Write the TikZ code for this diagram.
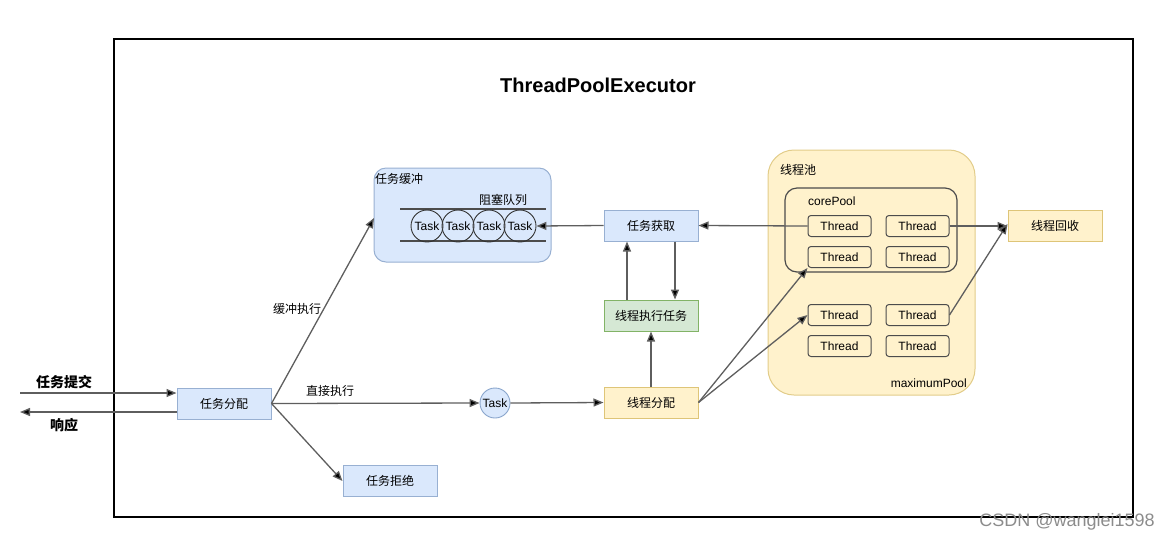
\documentclass[tikz,border=0pt]{standalone}
\usepackage{fontspec}
\setmainfont{Liberation Sans}
\newfontfamily\cjk{Noto Sans CJK SC}
\usetikzlibrary{arrows.meta}
\definecolor{bfill}{HTML}{DAE8FC}
\definecolor{bline}{HTML}{6C8EBF}
\definecolor{gfill}{HTML}{D5E8D4}
\definecolor{gline}{HTML}{82B366}
\definecolor{yfill}{HTML}{FFF2CC}
\definecolor{yline}{HTML}{D6B656}
\definecolor{arr}{HTML}{5E5E5E}
\tikzset{
  box/.style={draw, line width=1pt, minimum width=94pt, minimum height=31pt, inner sep=0pt, font=\cjk\fontsize{12}{14}\selectfont},
  bbox/.style={box, fill=bfill, draw=bline!70},
  gbox/.style={box, fill=gfill, draw=gline},
  ybox/.style={box, fill=yfill, draw=yline!80},
  thr/.style={draw=black!70, line width=1pt, rounded corners=3pt, minimum width=63pt, minimum height=21pt, inner sep=0pt, font=\fontsize{12}{14}\selectfont},
  taskc/.style={circle, draw=black!80, line width=0.9pt, minimum size=32pt, inner sep=0pt, font=\fontsize{12}{14}\selectfont},
  arrow/.style={draw=arr, line width=1.3pt, -{Triangle[length=10pt,width=8pt,fill=black]}},
  lbl/.style={font=\cjk\fontsize{12}{14}\selectfont, inner sep=0pt},
}
\begin{document}
\begin{tikzpicture}[x=1pt,y=-1pt]
\useasboundingbox (0,0) rectangle (1170,542);
% outer frame
\draw[line width=2.6pt] (114,39) rectangle (1133,517);
\node[font=\bfseries\fontsize{20}{24}\selectfont] (title) at (598,85) {ThreadPoolExecutor};

% buffer
\draw[fill=bfill, draw=bline!70, line width=1pt, rounded corners=12pt] (374,168) rectangle (551,262);
\node[lbl, anchor=west] (buflbl) at (375,179) {任务缓冲};
\node[lbl] (bq) at (503,200) {阻塞队列};
\draw[black!70, line width=1.2pt] (400,209) -- (546,209);
\draw[black!70, line width=1.2pt] (400,241) -- (546,241);
\foreach \i/\x in {1/427,2/458,3/489,4/520} {
  \node[taskc] (q\i) at (\x,226) {Task};
}
\coordinate (buf) at (374,218);

% pool
\draw[fill=yfill, draw=yline!70, line width=1pt, rounded corners=26pt] (768,150) rectangle (975,395);
\node[lbl, anchor=west] (poollbl) at (780,170) {线程池};
\draw[black!70, line width=1.2pt, rounded corners=12pt] (785,188) rectangle (957,272);
\node[font=\fontsize{12}{14}\selectfont, anchor=west, inner sep=0pt] (corelbl) at (808,201) {corePool};
\node[font=\fontsize{12}{14}\selectfont, anchor=east, inner sep=0pt] (maxlbl) at (967,383) {maximumPool};
\node[thr] (t11) at (839.5,226) {Thread};
\node[thr] (t12) at (917.5,226) {Thread};
\node[thr] (t21) at (839.5,257) {Thread};
\node[thr] (t22) at (917.5,257) {Thread};
\node[thr] (t31) at (839.5,315) {Thread};
\node[thr] (t32) at (917.5,315) {Thread};
\node[thr] (t41) at (839.5,346) {Thread};
\node[thr] (t42) at (917.5,346) {Thread};

% boxes
\node[bbox] (fenpei) at (224,403.5) {任务分配};
\node[bbox] (jujue) at (390,481) {任务拒绝};
\node[bbox] (huoqu) at (651,225.5) {任务获取};
\node[gbox] (zhixing) at (651,315.5) {线程执行任务};
\node[ybox] (xfp) at (651,402.5) {线程分配};
\node[ybox] (huishou) at (1055,226) {线程回收};
\node[taskc, fill=bfill, draw=bline!80, minimum size=30pt] (task) at (495,403) {Task};

% input/output
\coordinate (inS) at (20,393);
\coordinate (outE) at (20,412);
\draw[arrow] (inS) -- (fenpei.west |- inS);
\draw[arrow] (fenpei.west |- outE) -- (outE);
\node[lbl, font=\cjk\bfseries\fontsize{14}{16}\selectfont] (tj) at (64,382) {任务提交};
\node[lbl, font=\cjk\bfseries\fontsize{14}{16}\selectfont] (xy) at (64,425) {响应};

% flows
\draw[arrow] (fenpei.east) -- (buf);
\node[lbl] (hc) at (297,309) {缓冲执行};
\draw[arrow] (fenpei.east) -- (task.west);
\node[lbl] (zj) at (330,391) {直接执行};
\draw[arrow] (fenpei.east) -- (jujue.west);
\draw[arrow] (task.east) -- (xfp.west);
\draw[arrow] (xfp.north) -- (zhixing.south);
\draw[arrow] ([xshift=-24pt]zhixing.north) -- ([xshift=-24pt]huoqu.south);
\draw[arrow] ([xshift=24pt]huoqu.south) -- ([xshift=24pt]zhixing.north);
\draw[arrow] (huoqu.west) -- (q4.east);
\draw[arrow] (t11.west) -- (huoqu.east);
\draw[arrow] (xfp.east) -- (t21.south west);
\draw[arrow] (xfp.east) -- (t31.west);
\draw[arrow] (t12.east) -- (huishou.west);
\draw[arrow] (t32.east) -- ([yshift=2pt]huishou.west);

% watermark
\node[font=\fontsize{18}{20}\selectfont, text=black!45, anchor=east, inner sep=0pt] (wm) at (1155,522) {CSDN @wanglei1598};
\end{tikzpicture}
\end{document}
